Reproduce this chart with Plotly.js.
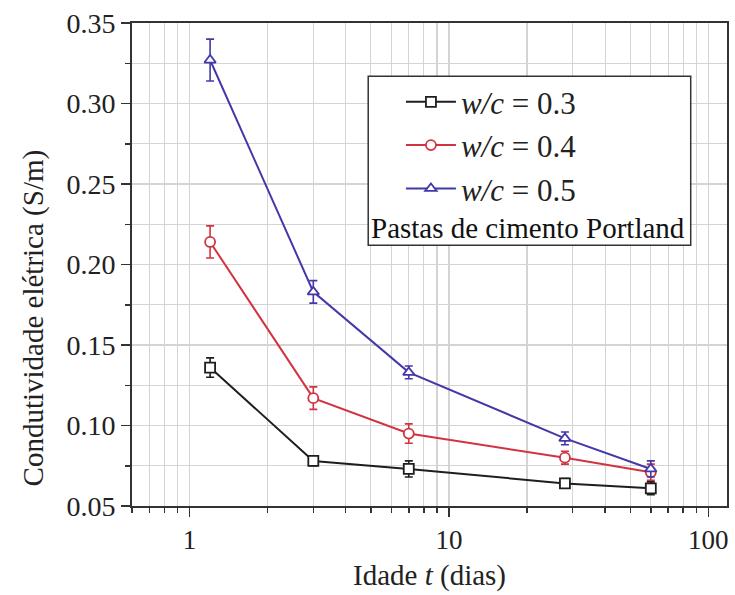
<!DOCTYPE html>
<html>
<head>
<meta charset="utf-8">
<script src="https://cdn.plot.ly/plotly-3.0.1.min.js"></script>
<style>html,body{margin:0;padding:0;background:#fff;}#chart{width:735px;height:595px;}</style>
</head>
<body>
<div id="chart"></div>
<script>
// Age (days)
var ages = [1.2, 3, 7, 28, 60];
// Electrical conductivity (S/m)
var wc03 = [0.136, 0.078, 0.073, 0.064, 0.061];
var wc04 = [0.214, 0.117, 0.095, 0.080, 0.071];
var wc05 = [0.327, 0.183, 0.133, 0.092, 0.073];
// Error bar half-widths
var err03 = [0.006, 0.003, 0.005, 0.003, 0.004];
var err04 = [0.010, 0.007, 0.006, 0.004, 0.005];
var err05 = [0.013, 0.007, 0.004, 0.004, 0.005];
var seriesNames = ['<i>w/c</i> = 0.3', '<i>w/c</i> = 0.4', '<i>w/c</i> = 0.5'];
var noteText = 'Pastas de cimento Portland';
var xTitle = 'Idade <i>t</i> (dias)';
var yTitle = 'Condutividade elétrica (S/m)';
var xTickVals = [1, 10, 100];
var xTickText = ['1', '10', '100'];
var yTickVals = [0.05, 0.10, 0.15, 0.20, 0.25, 0.30, 0.35];
var yTickText = ['0.05', '0.10', '0.15', '0.20', '0.25', '0.30', '0.35'];

var serif = 'Liberation Serif, Times New Roman, serif';
function mk(y, err, name, color, symbol) {
  return {
    x: ages, y: y, name: name, type: 'scatter', mode: 'lines+markers',
    line: {color: color, width: 2},
    marker: {symbol: symbol, size: 10, color: '#ffffff', line: {color: color, width: 1.8}},
    error_y: {type: 'data', array: err, visible: true, color: color, thickness: 1.6, width: 4}
  };
}
var data = [
  mk(wc03, err03, seriesNames[0], '#1e1e1e', 'square'),
  mk(wc04, err04, seriesNames[1], '#d23341', 'circle'),
  mk(wc05, err05, seriesNames[2], '#4238a8', 'triangle-up')
];

var gridC = '#d4d4d4';
var layout = {
  width: 735, height: 595,
  margin: {l: 132, r: 8, t: 23, b: 89},
  paper_bgcolor: '#ffffff', plot_bgcolor: '#ffffff',
  font: {family: serif, color: '#222222', size: 27},
  showlegend: true,
  xaxis: {
    type: 'log', range: [Math.log10(0.6), Math.log10(118)],
    tickvals: xTickVals, ticktext: xTickText,
    ticks: 'outside', ticklen: 9, tickwidth: 1.5, tickcolor: '#333',
    showline: true, linecolor: '#333', linewidth: 2, mirror: true,
    showgrid: true, gridcolor: gridC, gridwidth: 1.5,
    minor: {ticks: 'outside', ticklen: 5, tickcolor: '#333', showgrid: true, gridcolor: gridC, gridwidth: 1.2,
            tickvals: [0.6,0.7,0.8,0.9,2,3,4,5,6,7,8,9,20,30,40,50,60,70,80,90]},
    tickfont: {family: serif, size: 27, color: '#222'},
    title: {text: xTitle, font: {family: serif, size: 29, color: '#222'}, standoff: 10},
    zeroline: false
  },
  yaxis: {
    range: [0.05, 0.35],
    tickvals: yTickVals, ticktext: yTickText,
    ticks: 'outside', ticklen: 9, tickwidth: 1.5, tickcolor: '#333',
    showline: true, linecolor: '#333', linewidth: 2, mirror: true,
    showgrid: true, gridcolor: gridC, gridwidth: 1.5,
    minor: {ticks: 'outside', ticklen: 5, tickcolor: '#333', showgrid: true, gridcolor: gridC, gridwidth: 1.2, dtick: 0.025},
    tickfont: {family: serif, size: 28, color: '#222'},
    zeroline: false
  },
  legend: {
    x: 0.452, y: 0.892, xanchor: 'left', yanchor: 'top',
    bgcolor: 'rgba(0,0,0,0)', borderwidth: 0,
    font: {family: serif, size: 31, color: '#222'},
    itemwidth: 50, tracegroupgap: 0
  },
  shapes: [{
    type: 'rect', xref: 'paper', yref: 'paper',
    x0: 0.397, x1: 0.939, y0: 0.540, y1: 0.890,
    line: {color: '#333', width: 1.5}, fillcolor: '#ffffff', layer: 'above'
  }],
  annotations: [{
    text: noteText, xref: 'paper', yref: 'paper',
    x: 0.666, y: 0.575, xanchor: 'center', yanchor: 'middle', showarrow: false,
    font: {family: serif, size: 29, color: '#111'}
  }, {
    text: yTitle, xref: 'paper', yref: 'paper', textangle: -90,
    x: -0.165, y: 0.39, xanchor: 'center', yanchor: 'middle', showarrow: false,
    font: {family: serif, size: 29, color: '#222'}
  }]
};
Plotly.newPlot('chart', data, layout, {displayModeBar: false, staticPlot: true});
</script>
</body>
</html>
